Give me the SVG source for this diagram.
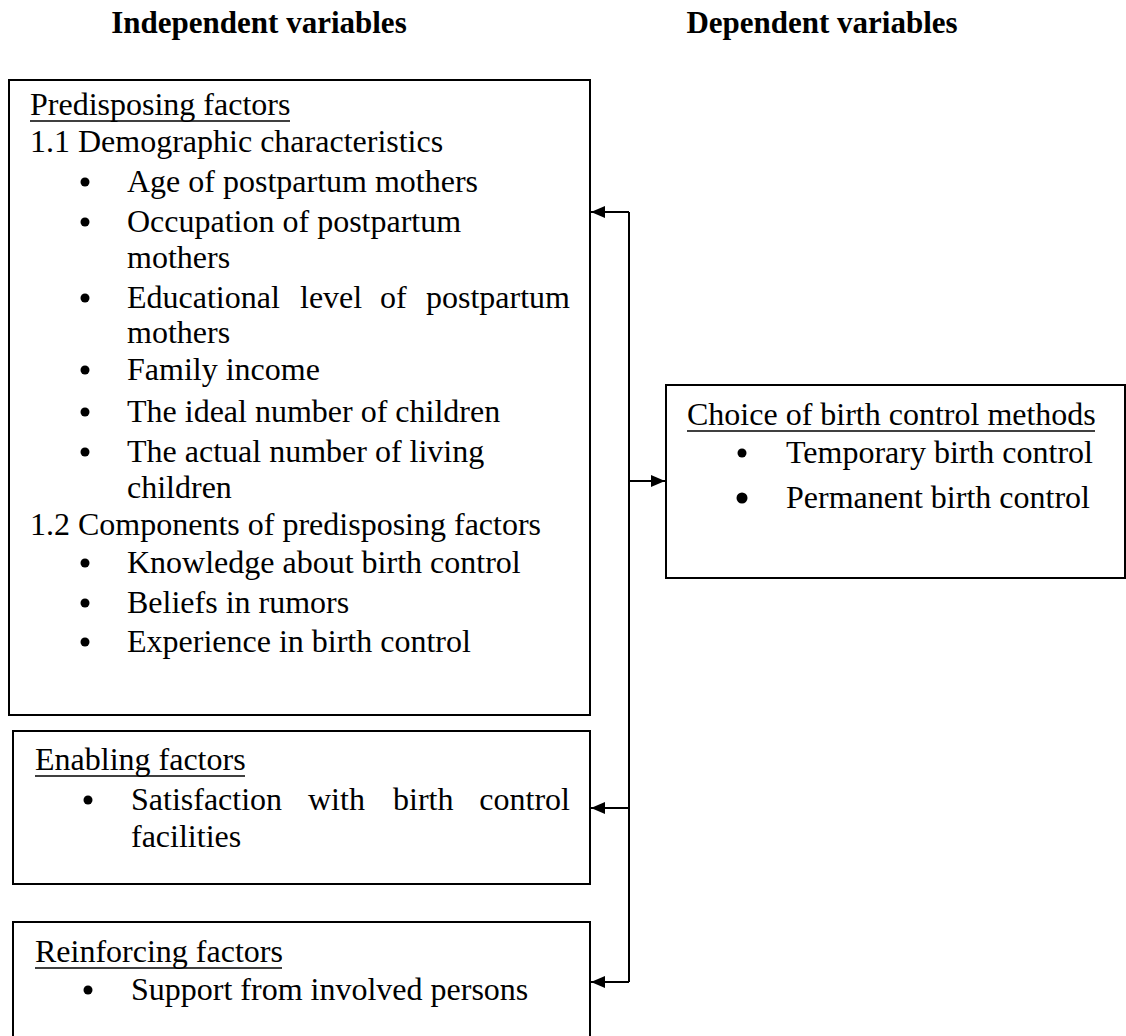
<svg xmlns="http://www.w3.org/2000/svg" width="1126" height="1036" viewBox="0 0 1126 1036">
<style>
.t{font-family:"Liberation Serif","Times New Roman",serif;font-size:32px;fill:#000}
.h{font-family:"Liberation Serif","Times New Roman",serif;font-size:31px;font-weight:bold;fill:#000}
.box{fill:#fff;stroke:#000;stroke-width:2}
.ul{stroke:#000;stroke-width:1.5}
.b{fill:#000}
.c{stroke:#000;stroke-width:2;fill:none}
</style>
<defs>
<marker id="ah" markerWidth="14" markerHeight="12" refX="14" refY="6" orient="auto" markerUnits="userSpaceOnUse" viewBox="0 0 14 12">
<path d="M0,0 L14,6 L0,12 z" fill="#000"/>
</marker>
</defs>
<text class="h" x="259" y="33" text-anchor="middle">Independent variables</text>
<text class="h" x="822" y="33" text-anchor="middle">Dependent variables</text>
<g id="predisposing">
<rect class="box" x="9" y="80" width="581" height="635"/>
<text class="t" x="30" y="115">Predisposing factors</text>
<line class="ul" x1="30" y1="121" x2="290" y2="121"/>
<text class="t" x="30" y="152">1.1 Demographic characteristics</text>
<circle class="b" cx="85" cy="182" r="4.5"/><text class="t" x="127" y="192">Age of postpartum mothers</text>
<circle class="b" cx="85" cy="222" r="4.5"/><text class="t" x="127" y="232">Occupation of postpartum</text>
<text class="t" x="127" y="268">mothers</text>
<circle class="b" cx="85" cy="298" r="4.5"/>
<text class="t" x="127" y="308">Educational</text><text class="t" x="300" y="308">level</text><text class="t" x="380" y="308">of</text><text class="t" x="570" y="308" text-anchor="end">postpartum</text>
<text class="t" x="127" y="343">mothers</text>
<circle class="b" cx="85" cy="370" r="4.5"/><text class="t" x="127" y="380">Family income</text>
<circle class="b" cx="85" cy="412" r="4.5"/><text class="t" x="127" y="422">The ideal number of children</text>
<circle class="b" cx="85" cy="452" r="4.5"/><text class="t" x="127" y="462">The actual number of living</text>
<text class="t" x="127" y="498">children</text>
<text class="t" x="30" y="535">1.2 Components of predisposing factors</text>
<circle class="b" cx="85" cy="563" r="4.5"/><text class="t" x="127" y="573">Knowledge about birth control</text>
<circle class="b" cx="85" cy="603" r="4.5"/><text class="t" x="127" y="613">Beliefs in rumors</text>
<circle class="b" cx="85" cy="642" r="4.5"/><text class="t" x="127" y="652">Experience in birth control</text>
</g>
<g id="enabling">
<rect class="box" x="13" y="731" width="577" height="153"/>
<text class="t" x="35" y="770">Enabling factors</text>
<line class="ul" x1="35" y1="776" x2="245" y2="776"/>
<circle class="b" cx="88" cy="800" r="4.5"/>
<text class="t" x="131" y="810">Satisfaction</text><text class="t" x="308" y="810">with</text><text class="t" x="393" y="810">birth</text><text class="t" x="570" y="810" text-anchor="end">control</text>
<text class="t" x="131" y="847">facilities</text>
</g>
<g id="reinforcing">
<rect class="box" x="13" y="922" width="577" height="130"/>
<text class="t" x="35" y="962">Reinforcing factors</text>
<line class="ul" x1="35" y1="968" x2="282" y2="968"/>
<circle class="b" cx="88" cy="990" r="4.5"/><text class="t" x="131" y="1000">Support from involved persons</text>
</g>
<g id="choice">
<rect class="box" x="666" y="385" width="459" height="193"/>
<text class="t" x="687" y="425">Choice of birth control methods</text>
<line class="ul" x1="687" y1="431" x2="1095" y2="431"/>
<circle class="b" cx="742" cy="453" r="4.5"/><text class="t" x="786" y="463">Temporary birth control</text>
<circle class="b" cx="742" cy="498" r="5.5"/><text class="t" x="786" y="508">Permanent birth control</text>
</g>
<g id="connectors">
<line class="c" x1="629" y1="212" x2="629" y2="982"/>
<line class="c" x1="629" y1="212" x2="591" y2="212" marker-end="url(#ah)"/>
<line class="c" x1="629" y1="808" x2="591" y2="808" marker-end="url(#ah)"/>
<line class="c" x1="629" y1="982" x2="591" y2="982" marker-end="url(#ah)"/>
<line class="c" x1="629" y1="481" x2="665" y2="481" marker-end="url(#ah)"/>
</g>
</svg>
